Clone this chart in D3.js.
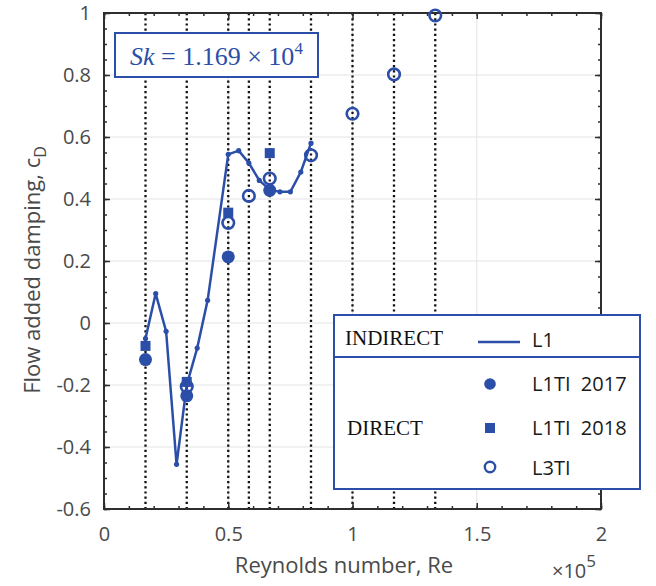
<!DOCTYPE html>
<html>
<head>
<meta charset="utf-8">
<script src="https://cdn.jsdelivr.net/npm/d3@7"></script>
<style>
  body { margin: 0; background: #fff; }
  text { font-family: "Open Sans", sans-serif; }
</style>
</head>
<body>
<div id="chart"></div>
<script>
// data (Re in units of 1e5)
var lineRe = [0.167, 0.208, 0.25, 0.292, 0.333, 0.375, 0.417, 0.5, 0.542, 0.583, 0.625, 0.667, 0.708, 0.75, 0.792, 0.833];
var lineCd = [-0.05, 0.095, -0.027, -0.456, -0.2, -0.081, 0.073, 0.544, 0.556, 0.516, 0.46, 0.43, 0.423, 0.423, 0.487, 0.58];

var ti2017Re = [0.167, 0.333, 0.5, 0.667];
var ti2017Cd = [-0.118, -0.235, 0.213, 0.428];

var ti2018Re = [0.167, 0.333, 0.5, 0.667];
var ti2018Cd = [-0.074, -0.19, 0.356, 0.548];

var l3tiRe = [0.333, 0.5, 0.583, 0.667, 0.833, 1.0, 1.167, 1.333];
var l3tiCd = [-0.205, 0.323, 0.41, 0.466, 0.541, 0.675, 0.802, 0.992];

var dottedRe = [0.167, 0.333, 0.5, 0.583, 0.667, 0.833, 1.0, 1.167, 1.333];

var xTicks = [0, 0.5, 1, 1.5, 2];
var yTicks = [-0.6, -0.4, -0.2, 0, 0.2, 0.4, 0.6, 0.8, 1];
var xMinor = d3.range(0, 2.001, 0.1);
var yMinor = d3.range(-0.6, 1.001, 0.05);

var blue = "#2b4ea8";
var w = 656, h = 586;
var mLeft = 104, mRight = 601, mTop = 13, mBottom = 509;

var x = d3.scaleLinear().domain([0, 2]).range([mLeft, mRight]);
var y = d3.scaleLinear().domain([-0.6, 1]).range([mBottom, mTop]);

var svg = d3.select("#chart").append("svg")
    .attr("width", w)
    .attr("height", h);

svg.append("rect").attr("width", w).attr("height", h).attr("fill", "#fff");

// grid
svg.append("g").selectAll("line").data(xTicks.slice(1, -1)).enter().append("line")
    .attr("x1", function (d) { return x(d); }).attr("x2", function (d) { return x(d); })
    .attr("y1", mTop).attr("y2", mBottom)
    .attr("stroke", "#e3e3e3").attr("stroke-width", 1);
svg.append("g").selectAll("line").data(yTicks.slice(1, -1)).enter().append("line")
    .attr("x1", mLeft).attr("x2", mRight)
    .attr("y1", function (d) { return y(d); }).attr("y2", function (d) { return y(d); })
    .attr("stroke", "#e3e3e3").attr("stroke-width", 1);

// dotted verticals
svg.append("g").selectAll("line").data(dottedRe).enter().append("line")
    .attr("x1", function (d) { return x(d); }).attr("x2", function (d) { return x(d); })
    .attr("y1", mTop).attr("y2", mBottom)
    .attr("stroke", "#111").attr("stroke-width", 2.3)
    .attr("stroke-dasharray", "2.2,3");

// axes with inward ticks
function fmt(d) { return String(+d.toFixed(1)); }

var axisCol = "#2e2e2e";
function styleAxis(g) {
    g.select(".domain").remove();
    g.selectAll(".tick line").attr("stroke", axisCol).attr("stroke-width", 1.5);
    g.selectAll("text").attr("fill", "#4a4a4a").style("font-size", "20px");
}

svg.append("g").attr("transform", "translate(0," + mBottom + ")")
    .call(d3.axisBottom(x).tickValues(xTicks).tickSize(-6).tickPadding(18).tickFormat(fmt))
    .call(styleAxis);
svg.append("g").attr("transform", "translate(0," + mBottom + ")")
    .call(d3.axisBottom(x).tickValues(xMinor).tickSize(-3).tickFormat(""))
    .call(styleAxis);
svg.append("g").attr("transform", "translate(0," + mTop + ")")
    .call(d3.axisTop(x).tickValues(xTicks).tickSize(-6).tickFormat(""))
    .call(styleAxis);
svg.append("g").attr("transform", "translate(0," + mTop + ")")
    .call(d3.axisTop(x).tickValues(xMinor).tickSize(-3).tickFormat(""))
    .call(styleAxis);

svg.append("g").attr("transform", "translate(" + mLeft + ",0)")
    .call(d3.axisLeft(y).tickValues(yTicks).tickSize(-6).tickPadding(13).tickFormat(fmt))
    .call(styleAxis);
svg.append("g").attr("transform", "translate(" + mLeft + ",0)")
    .call(d3.axisLeft(y).tickValues(yMinor).tickSize(-3).tickFormat(""))
    .call(styleAxis);
svg.append("g").attr("transform", "translate(" + mRight + ",0)")
    .call(d3.axisRight(y).tickValues(yTicks).tickSize(-6).tickFormat(""))
    .call(styleAxis);
svg.append("g").attr("transform", "translate(" + mRight + ",0)")
    .call(d3.axisRight(y).tickValues(yMinor).tickSize(-3).tickFormat(""))
    .call(styleAxis);

// frame
svg.append("rect")
    .attr("x", mLeft).attr("y", mTop)
    .attr("width", mRight - mLeft).attr("height", mBottom - mTop)
    .attr("fill", "none").attr("stroke", axisCol).attr("stroke-width", 2);

// L1 line
var lineData = lineRe.map(function (d, i) { return [d, lineCd[i]]; });
svg.append("path")
    .datum(lineData)
    .attr("d", d3.line().x(function (d) { return x(d[0]); }).y(function (d) { return y(d[1]); }))
    .attr("fill", "none").attr("stroke", blue).attr("stroke-width", 2.5);
svg.append("g").selectAll("circle").data(lineData).enter().append("circle")
    .attr("cx", function (d) { return x(d[0]); })
    .attr("cy", function (d) { return y(d[1]); })
    .attr("r", 2.6).attr("fill", blue);

// L1TI 2017 filled circles
svg.append("g").selectAll("circle").data(ti2017Re).enter().append("circle")
    .attr("cx", function (d) { return x(d); })
    .attr("cy", function (d, i) { return y(ti2017Cd[i]); })
    .attr("r", 6.5).attr("fill", blue);

// L1TI 2018 squares
svg.append("g").selectAll("rect").data(ti2018Re).enter().append("rect")
    .attr("x", function (d) { return x(d) - 5; })
    .attr("y", function (d, i) { return y(ti2018Cd[i]) - 5; })
    .attr("width", 10).attr("height", 10).attr("fill", blue);

// L3TI open circles
svg.append("g").selectAll("circle").data(l3tiRe).enter().append("circle")
    .attr("cx", function (d) { return x(d); })
    .attr("cy", function (d, i) { return y(l3tiCd[i]); })
    .attr("r", 5.8).attr("fill", "none")
    .attr("stroke", blue).attr("stroke-width", 2.6);

// Sk annotation
svg.append("rect")
    .attr("x", 115).attr("y", 33).attr("width", 203).attr("height", 44)
    .attr("fill", "#fff").attr("stroke", blue).attr("stroke-width", 2);
var sk = svg.append("text")
    .attr("x", 130).attr("y", 65)
    .attr("fill", blue)
    .style("font-family", "'Liberation Serif', serif")
    .style("font-size", "26px");
sk.append("tspan").style("font-style", "italic").text("Sk");
sk.append("tspan").text(" = 1.169 \u00d7 10");
sk.append("tspan").attr("dy", -11).style("font-size", "17px").text("4");

// labels
svg.append("text")
    .attr("x", 344).attr("y", 573)
    .attr("text-anchor", "middle")
    .attr("fill", "#4a4a4a").style("font-size", "22px")
    .text("Reynolds number, Re");

var ex = svg.append("text")
    .attr("x", 552).attr("y", 578)
    .attr("fill", "#4a4a4a").style("font-size", "20px");
ex.append("tspan").text("\u00d710");
ex.append("tspan").attr("dy", -11).style("font-size", "17px").text("5");

var yl = svg.append("text")
    .attr("transform", "translate(40,270) rotate(-90)")
    .attr("text-anchor", "middle")
    .attr("fill", "#4a4a4a").style("font-size", "22px");
yl.append("tspan").text("Flow added damping, c");
yl.append("tspan").attr("dy", 6).style("font-size", "16px").text("D");

// legend
var lg = svg.append("g");
lg.append("rect")
    .attr("x", 334).attr("y", 315).attr("width", 306).attr("height", 174)
    .attr("fill", "#fff").attr("stroke", blue).attr("stroke-width", 2);
lg.append("line")
    .attr("x1", 334).attr("x2", 640).attr("y1", 357).attr("y2", 357)
    .attr("stroke", blue).attr("stroke-width", 2);

var serif = "'Liberation Serif', serif";
lg.append("text").attr("x", 345).attr("y", 345)
    .style("font-family", serif).style("font-size", "21px").attr("fill", "#111")
    .text("INDIRECT");
lg.append("text").attr("x", 347).attr("y", 435)
    .style("font-family", serif).style("font-size", "21px").attr("fill", "#111")
    .text("DIRECT");

lg.append("line")
    .attr("x1", 478).attr("x2", 520).attr("y1", 342).attr("y2", 342)
    .attr("stroke", blue).attr("stroke-width", 2.5);
lg.append("circle").attr("cx", 490).attr("cy", 384).attr("r", 5.8).attr("fill", blue);
lg.append("rect").attr("x", 485).attr("y", 423).attr("width", 10).attr("height", 10).attr("fill", blue);
lg.append("circle").attr("cx", 490).attr("cy", 467).attr("r", 5.2)
    .attr("fill", "none").attr("stroke", blue).attr("stroke-width", 2.4);

var legendText = ["L1", "L1TI  2017", "L1TI  2018", "L3TI"];
var legendY = [347, 391, 435, 475];
lg.selectAll("text.item").data(legendText).enter().append("text")
    .attr("class", "item")
    .attr("x", 532)
    .attr("y", function (d, i) { return legendY[i]; })
    .attr("fill", "#1a1a1a")
    .style("font-size", "20px")
    .style("white-space", "pre")
    .text(function (d) { return d; });
</script>
</body>
</html>
